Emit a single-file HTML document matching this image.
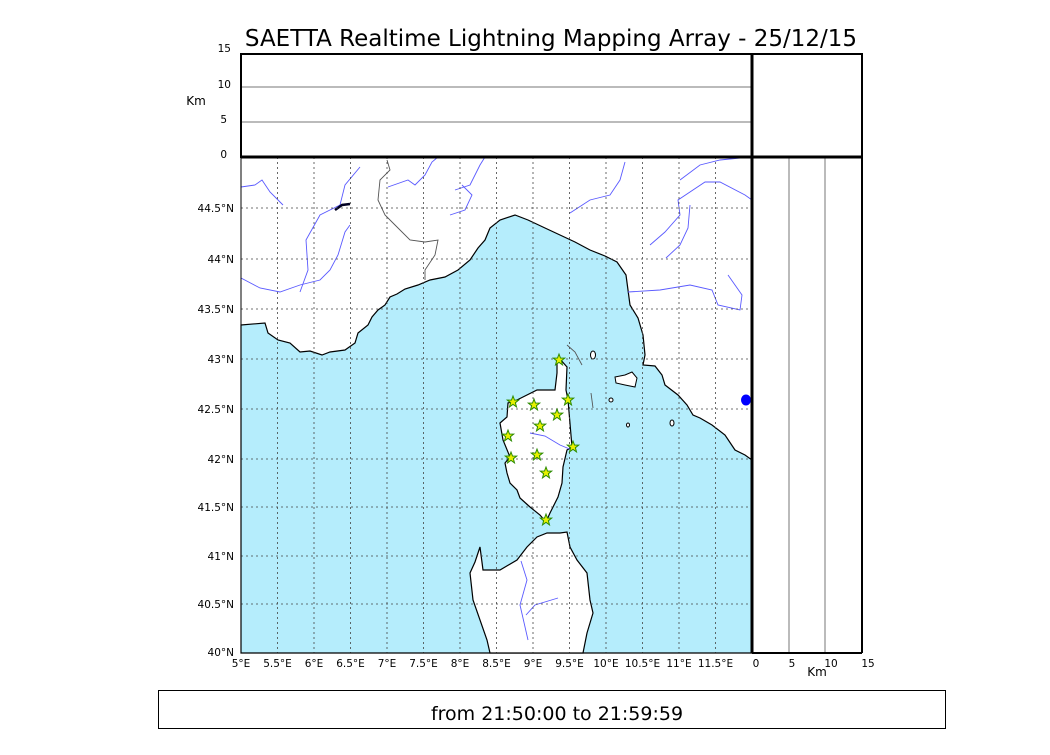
<!DOCTYPE html>
<html><head><meta charset="utf-8"><style>
body{margin:0;background:#fff;width:1050px;height:750px;overflow:hidden;font-family:"Liberation Sans","DejaVu Sans",sans-serif}
svg text{font-family:"DejaVu Sans","Liberation Sans",sans-serif}
</style></head><body>
<svg width="1050" height="750" viewBox="0 0 1050 750" xmlns="http://www.w3.org/2000/svg">
<text x="551" y="46" font-size="23" text-anchor="middle">SAETTA Realtime Lightning Mapping Array - 25/12/15</text>
<path d="M241,325 L265,323 268,333 278,340 290,343 300,352 310,351 322,355 330,352 345,350 355,343 358,333 368,325 372,317 378,310 385,305 390,297 397,294 405,289 418,285 430,280 445,277 458,270 470,260 478,248 485,240 490,228 500,220 515,215 528,220 545,228 560,235 575,242 590,250 605,256 617,262 626,275 628,290 630,305 638,318 643,335 645,355 643,365 655,366 662,375 665,385 678,395 687,405 693,415 700,418 712,425 725,435 735,450 745,455 752,460 L752,653 L241,653 Z" fill="#b5edfc" stroke="#000" stroke-width="1.2"/>
<path d="M559,358 567,367 566,390 568,400 572,447 567,450 563,467 562,483 558,497 550,513 546,522 540,515 530,507 520,498 517,490 510,483 507,473 505,463 510,457 503,440 500,423 507,417 508,403 517,400 537,390 555,390 557,373 557,362 Z" fill="#fff" stroke="#000" stroke-width="1.2"/>
<path d="M547,533 560,533 567,532 570,547 577,560 587,573 590,600 593,613 587,633 583,653 490,653 487,640 473,600 470,573 475,562 480,547 483,570 500,570 517,560 527,547 537,537 Z" fill="#fff" stroke="#000" stroke-width="1.2"/>
<path d="M615,377 625,375 632,372 637,378 635,387 625,385 616,383 Z" fill="#fff" stroke="#000"/>
<ellipse cx="593" cy="355" rx="2.5" ry="4" fill="#fff" stroke="#000"/>
<ellipse cx="611" cy="400" rx="2" ry="2" fill="#fff" stroke="#000"/>
<ellipse cx="628" cy="425" rx="1.5" ry="2" fill="#fff" stroke="#000"/>
<ellipse cx="672" cy="423" rx="2" ry="3" fill="#fff" stroke="#000"/>
<g fill="none" stroke="#5a5aff" stroke-width="0.9">
<path d="M241,187 L255,185 262,180 270,192 283,205"/>
<path d="M241,278 L260,288 280,292 300,285 320,280 330,270 338,255 345,232 350,225"/>
<path d="M300,292 L308,270 306,240 320,215 340,205 345,185 360,167"/>
<path d="M388,187 L408,180 415,185 425,175 432,162 438,157"/>
<path d="M455,190 L470,185 480,165 485,157"/>
<path d="M450,215 L465,210 472,195 462,185"/>
<path d="M570,213 L590,200 610,195 620,180 625,162"/>
<path d="M650,245 L665,232 680,215 678,200 705,182 720,182 745,195 752,200"/>
<path d="M666,258 L680,245 688,228 690,205"/>
<path d="M628,292 L660,290 690,285 712,290 718,305 740,310 742,295 728,275"/>
<path d="M680,180 L700,165 720,160 740,158"/>
<path d="M530,433 L545,436 560,445 572,450"/>
<path d="M521,561 L527,580 520,605 528,640"/>
<path d="M526,615 L535,605 558,598"/>
</g>
<g fill="none" stroke="#555" stroke-width="0.9">
<path d="M387,160 L390,170 380,180 378,200 385,215 395,225 410,240 425,242 438,240 435,255 425,270 425,280"/>
<path d="M567,345 L575,352 582,365"/>
<path d="M591,393 L593,408"/>
</g>
<path d="M335,210 L342,205 350,204" stroke="#002" stroke-width="2.5" fill="none"/>
<g stroke="#444" stroke-width="0.8" stroke-dasharray="2,3">
<line x1="277.5" y1="157" x2="277.5" y2="653"/><line x1="314" y1="157" x2="314" y2="653"/><line x1="350.5" y1="157" x2="350.5" y2="653"/><line x1="387" y1="157" x2="387" y2="653"/><line x1="423.5" y1="157" x2="423.5" y2="653"/><line x1="460" y1="157" x2="460" y2="653"/><line x1="496.5" y1="157" x2="496.5" y2="653"/><line x1="533" y1="157" x2="533" y2="653"/><line x1="569.5" y1="157" x2="569.5" y2="653"/><line x1="606" y1="157" x2="606" y2="653"/><line x1="642.5" y1="157" x2="642.5" y2="653"/><line x1="679" y1="157" x2="679" y2="653"/><line x1="715.5" y1="157" x2="715.5" y2="653"/>
<line x1="241" y1="208" x2="752" y2="208"/><line x1="241" y1="259" x2="752" y2="259"/><line x1="241" y1="309" x2="752" y2="309"/><line x1="241" y1="359" x2="752" y2="359"/><line x1="241" y1="409" x2="752" y2="409"/><line x1="241" y1="459" x2="752" y2="459"/><line x1="241" y1="507" x2="752" y2="507"/><line x1="241" y1="556" x2="752" y2="556"/><line x1="241" y1="604" x2="752" y2="604"/>
</g>
<g fill="#e8f000" stroke="#2a8a00" stroke-width="1">
<g id="s"><polygon points="0,-6 1.5,-2 5.7,-1.9 2.4,0.7 3.5,4.9 0,2.4 -3.5,4.9 -2.4,0.7 -5.7,-1.9 -1.5,-2" transform="translate(559,360)"/></g>
<use href="#s" x="9" y="40"/><use href="#s" x="-46" y="42"/><use href="#s" x="-25" y="45"/><use href="#s" x="-2" y="55"/><use href="#s" x="-19" y="66"/><use href="#s" x="-51" y="76"/><use href="#s" x="14" y="87"/><use href="#s" x="-22" y="95"/><use href="#s" x="-48" y="98"/><use href="#s" x="-13" y="113"/><use href="#s" x="-13" y="160"/>
</g>
<ellipse cx="746" cy="400" rx="5" ry="5.5" fill="#0000ff"/>
<line x1="241" y1="87" x2="752" y2="87" stroke="#777"/>
<line x1="241" y1="122" x2="752" y2="122" stroke="#777"/>
<line x1="789" y1="157" x2="789" y2="653" stroke="#777"/>
<line x1="825" y1="157" x2="825" y2="653" stroke="#777"/>
<rect x="241" y="54" width="621" height="103" fill="none" stroke="#000" stroke-width="2"/>
<rect x="241" y="157" width="511" height="496" fill="none" stroke="#000" stroke-width="1"/>
<line x1="752" y1="54" x2="752" y2="653" stroke="#000" stroke-width="3"/>
<line x1="241" y1="157" x2="862" y2="157" stroke="#000" stroke-width="3"/>
<line x1="862" y1="157" x2="862" y2="653" stroke="#000" stroke-width="2"/>
<line x1="752" y1="653" x2="862" y2="653" stroke="#000" stroke-width="2"/>
<g font-size="10.5" text-anchor="end">
<text x="231" y="52">15</text><text x="231" y="88">10</text><text x="227" y="123">5</text><text x="227" y="158">0</text>
<text x="234" y="212">44.5°N</text><text x="234" y="263">44°N</text><text x="234" y="313">43.5°N</text><text x="234" y="363">43°N</text><text x="234" y="413">42.5°N</text><text x="234" y="463">42°N</text><text x="234" y="511">41.5°N</text><text x="234" y="560">41°N</text><text x="234" y="608">40.5°N</text><text x="234" y="656">40°N</text>
</g>
<text x="196" y="105" font-size="12" text-anchor="middle">Km</text>
<g font-size="10.5" text-anchor="middle">
<text x="241" y="667">5°E</text><text x="277.5" y="667">5.5°E</text><text x="314" y="667">6°E</text><text x="350.5" y="667">6.5°E</text><text x="387" y="667">7°E</text><text x="423.5" y="667">7.5°E</text><text x="460" y="667">8°E</text><text x="496.5" y="667">8.5°E</text><text x="533" y="667">9°E</text><text x="569.5" y="667">9.5°E</text><text x="606" y="667">10°E</text><text x="642.5" y="667">10.5°E</text><text x="679" y="667">11°E</text><text x="715.5" y="667">11.5°E</text>
<text x="756" y="667">0</text><text x="792" y="667">5</text><text x="831" y="667">10</text><text x="868" y="667">15</text>
</g>
<text x="817" y="676" font-size="12" text-anchor="middle">Km</text>
<rect x="158.5" y="690.5" width="787" height="38" fill="none" stroke="#000" stroke-width="1"/>
<text x="557" y="720" font-size="19" text-anchor="middle">from 21:50:00 to 21:59:59</text>
</svg>
</body></html>
